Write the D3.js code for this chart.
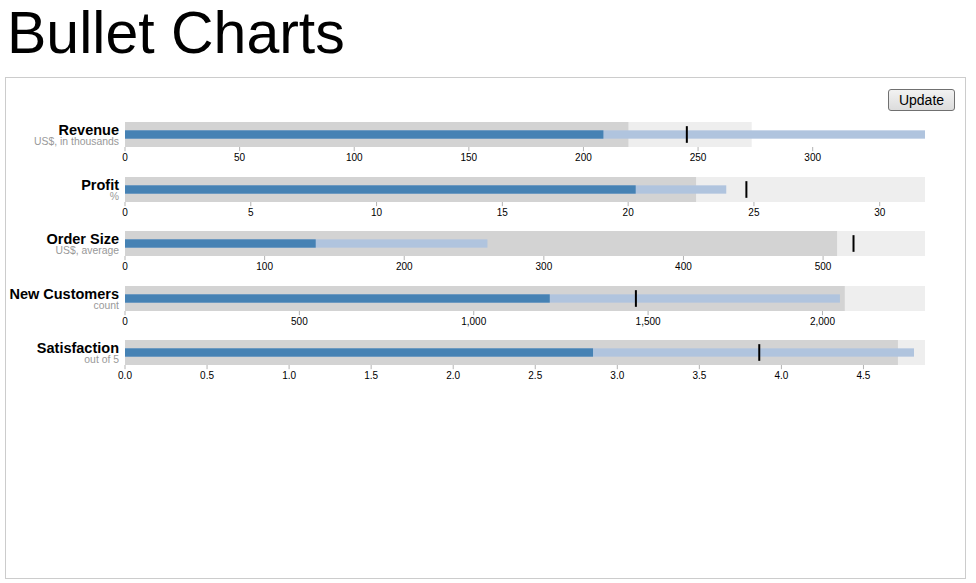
<!DOCTYPE html>
<html>
<head>
<meta charset="utf-8">
<script src="https://cdn.jsdelivr.net/npm/d3@7/dist/d3.min.js"></script>
<style>
  html, body { margin: 0; padding: 0; background: #fff; width: 976px; height: 583px; overflow: hidden; position: relative; font-family: "Liberation Sans", Arial, sans-serif; }
  #box { position: absolute; left: 5px; top: 77px; width: 959px; height: 500px; border: 1px solid #cccccc; }
  #update { position: absolute; left: 888px; top: 89px; width: 67px; height: 22px; box-sizing: border-box;
    border: 1px solid #707070; border-radius: 3px; background: linear-gradient(#f2f2f2, #dcdcdc);
    font: 14px "Liberation Sans", Arial, sans-serif; color: #000; padding: 0; margin: 0; }
  svg { position: absolute; left: 0; top: 0; }
</style>
</head>
<body>
<div id="box"></div>
<button id="update">Update</button>
<svg id="chart" width="976" height="583"></svg>
<script>
// ---- data ----
const titles    = ["Revenue", "Profit", "Order Size", "New Customers", "Satisfaction"];
const subtitles = ["US$, in thousands", "%", "US$, average", "count", "out of 5"];
const ranges    = [[273.4, 219.6], [31.8, 22.7], [573, 510], [2294, 2064], [4.875, 4.71]];
const measures  = [[349, 208.7], [23.9, 20.3], [259.6, 136.6], [2050, 1218], [4.808, 2.852]];
const markers   = [245.1, 24.7, 521.8, 1465, 3.865];
const tickValues = [
  [0, 50, 100, 150, 200, 250, 300],
  [0, 5, 10, 15, 20, 25, 30],
  [0, 100, 200, 300, 400, 500],
  [0, 500, 1000, 1500, 2000],
  [0, 0.5, 1.0, 1.5, 2.0, 2.5, 3.0, 3.5, 4.0, 4.5]
];
const tickFormats = [",", ",", ",", ",", ".1f"];

// ---- layout ----
const svg = d3.select("#chart");
svg.append("text")
  .attr("x", 7).attr("y", 53)
  .style("font-family", "'Liberation Sans', Arial, sans-serif")
  .style("font-size", "59px")
  .attr("fill", "#000")
  .text("Bullet Charts");

const left = 125, width = 800, height = 25;
const rangeColors = ["#eeeeee", "#d3d3d3"];
const measureColors = ["#b0c4de", "#4682b4"];

titles.forEach((title, i) => {
  const top = Math.round(122 + i * 54.5);
  const g = svg.append("g").attr("transform", `translate(${left},${top})`);
  const maxVal = Math.max(d3.max(ranges[i]), d3.max(measures[i]), markers[i]);
  const x = d3.scaleLinear().domain([0, maxVal]).range([0, width]);

  const rs = ranges[i].slice().sort(d3.descending);
  g.selectAll("rect.range").data(rs).join("rect")
    .attr("class", "range")
    .attr("x", 0).attr("y", 0)
    .attr("width", d => x(d)).attr("height", height)
    .attr("fill", (d, j) => rangeColors[j]);

  const ms = measures[i].slice().sort(d3.descending);
  g.selectAll("rect.measure").data(ms).join("rect")
    .attr("class", "measure")
    .attr("x", 0).attr("y", height / 3)
    .attr("width", d => x(d)).attr("height", height / 3)
    .attr("fill", (d, j) => measureColors[j]);

  g.append("line")
    .attr("x1", x(markers[i])).attr("x2", x(markers[i]))
    .attr("y1", height / 6).attr("y2", height * 5 / 6)
    .attr("stroke", "#000").attr("stroke-width", 2);

  const fmt = d3.format(tickFormats[i]);
  const ticks = g.selectAll("g.tick").data(tickValues[i]).join("g")
    .attr("class", "tick")
    .attr("transform", d => `translate(${x(d)},0)`);
  ticks.append("line")
    .attr("y1", height).attr("y2", height * 7 / 6)
    .attr("stroke", "#666").attr("stroke-width", 0.5);
  ticks.append("text")
    .attr("text-anchor", "middle")
    .attr("y", height * 7 / 6).attr("dy", "1em")
    .style("font", "10px 'Liberation Sans', Arial, sans-serif")
    .attr("fill", "#000")
    .text(d => fmt(d));

  const tg = g.append("g").attr("transform", `translate(-6,${height / 2})`).attr("text-anchor", "end");
  tg.append("text")
    .style("font", "bold 14.5px 'Liberation Sans', Arial, sans-serif")
    .attr("fill", "#000")
    .text(title);
  tg.append("text")
    .attr("y", 10)
    .style("font", "10.4px 'Liberation Sans', Arial, sans-serif")
    .attr("fill", "#999")
    .text(subtitles[i]);
});
</script>
</body>
</html>
